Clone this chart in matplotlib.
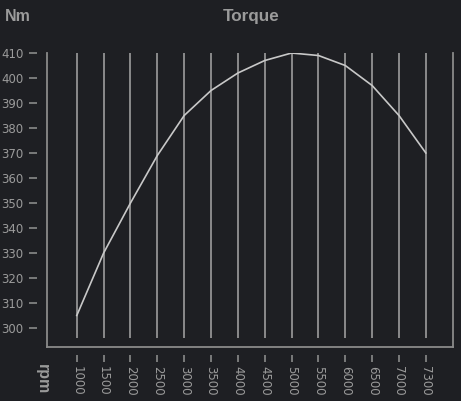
import matplotlib
matplotlib.use("Agg")
import matplotlib.pyplot as plt
from matplotlib.lines import Line2D

rpm = ["1000", "1500", "2000", "2500", "3000", "3500", "4000",
       "4500", "5000", "5500", "6000", "6500", "7000", "7300"]
torque = [305, 330, 350, 369, 385, 395, 402, 407, 410, 409, 405, 397, 385, 370]
yticks = list(range(300, 411, 10))

bg = "#1e1f23"
txt = "#9b9b9b"
frame_col = "#8a8a8a"
grid_col = "#a8a8a8"
line_col = "#c8c8c8"

plt.rcParams["font.family"] = ["Liberation Sans", "DejaVu Sans"]

fig = plt.figure(figsize=(4.61, 4.01), dpi=100, facecolor=bg)
ax = fig.add_axes([0.102, 0.1347, 0.880, 0.7331])
ax.set_facecolor(bg)

xs = list(range(len(rpm)))
ax.vlines(xs, 296, 410, color=grid_col, lw=1.1, zorder=1)
ax.plot(xs, torque, color=line_col, lw=1.2, zorder=2, solid_joinstyle="round")

ax.set_xlim(-1.108, len(rpm))
ax.set_ylim(292.4, 410)
ax.set_xticks(xs)
ax.set_xticklabels(rpm)
ax.set_yticks(yticks)

for s in ax.spines.values():
    s.set_visible(False)
ax.spines["left"].set_position(("outward", 7))
ax.spines["bottom"].set_position(("outward", 6))
ax.tick_params(axis="y", colors=frame_col, labelcolor=txt, length=6, width=1.2,
               pad=4)
ax.tick_params(axis="x", colors=frame_col, labelcolor=txt, length=5, width=1.2,
               pad=3, labelrotation=270)
for lab in ax.get_xticklabels() + ax.get_yticklabels():
    lab.set_fontfamily("DejaVu Sans")
    lab.set_fontsize(8.5)
for lab in ax.get_xticklabels():
    lab.set_verticalalignment("top")
    lab.set_horizontalalignment("center")

# frame: left, bottom, right
for xy in [([0, 0], [0, 1]), ([0, 1], [0, 0]), ([1, 1], [0, 1])]:
    ax.add_line(Line2D(xy[0], xy[1], transform=ax.transAxes, color=frame_col,
                       lw=1.3, clip_on=False))

fig.text(0.545, 0.958, "Torque", color=txt, fontsize=12.3, fontweight="bold",
         ha="center", va="center")
fig.text(0.010, 0.958, "Nm", color=txt, fontsize=11.5, fontweight="bold",
         ha="left", va="center")
fig.text(0.093, 0.055, "rpm", color=txt, fontsize=11.5, fontweight="bold",
         ha="center", va="center", rotation=270)

fig.savefig("out.png", dpi=100, facecolor=bg)
